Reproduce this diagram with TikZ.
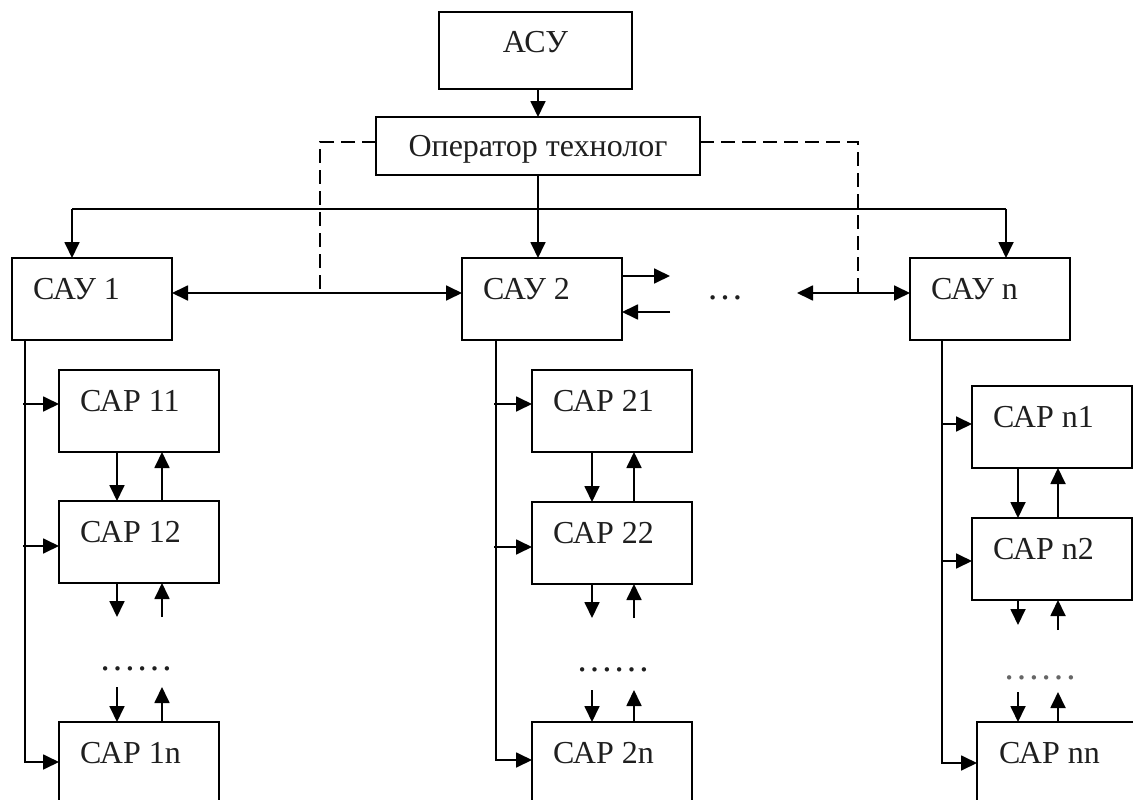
\documentclass[tikz,border=0pt]{standalone}
\usepackage{fontspec}
\setmainfont{Liberation Serif}
\usetikzlibrary{arrows.meta,calc}
\newcommand{\fs}{\fontsize{32}{36}\selectfont}
\newcommand{\fsdots}{\fontsize{37}{40}\selectfont}
\begin{document}
\begin{tikzpicture}[x=1pt,y=-1pt,
  ln/.style={line width=1.8pt},
  box/.style={draw, ln, minimum width=160pt, minimum height=82pt, inner sep=0pt, outer sep=0pt, anchor=north west},
  txt/.style={anchor=base west, inner sep=0pt, font=\fs, text=black!88},
  dotstxt/.style={anchor=base, inner sep=0pt, font=\fsdots, text=black!88},
  arr/.style={ln, -{Triangle[length=16pt,width=15pt]}},
  darr/.style={ln, {Triangle[length=16pt,width=15pt]}-{Triangle[length=16pt,width=15pt]}},
  dsh/.style={ln, dash pattern=on 14pt off 7pt}]
\useasboundingbox (0,0) rectangle (1133,800);

% ---- top ----
\node[box, minimum width=193pt, minimum height=77pt] (asu) at (439,12) {};
\node[txt, anchor=base] (asut) at (535.5,53) {АСУ};
\node[box, minimum width=324pt, minimum height=58pt] (op) at (376,117) {};
\node[txt, anchor=base] (opt) at (538,156) {Оператор технолог};

% ---- SAU level ----
\node[box] (sau1) at (12,258) {};
\node[txt] (sau1t) at (33,299) {САУ 1};
\node[box] (sau2) at (462,258) {};
\node[txt] (sau2t) at (483,299) {САУ 2};
\node[box] (saun) at (910,258) {};
\node[txt] (saunt) at (931,299) {САУ n};
\node[dotstxt] (sdots) at (725,299) {…};

% ---- column 1 ----
\node[box] (c11) at (59,370) {};
\node[txt] (c11t) at (80,411) {САР 11};
\node[box] (c12) at (59,501) {};
\node[txt] (c12t) at (80,542) {САР 12};
\node[box] (c1n) at (59,722) {};
\node[txt] (c1nt) at (80,763) {САР 1n};
\node[dotstxt] (c1dots) at (136,670) {……};

% ---- column 2 ----
\node[box] (c21) at (532,370) {};
\node[txt] (c21t) at (553,411) {САР 21};
\node[box] (c22) at (532,502) {};
\node[txt] (c22t) at (553,543) {САР 22};
\node[box] (c2n) at (532,722) {};
\node[txt] (c2nt) at (553,763) {САР 2n};
\node[dotstxt] (c2dots) at (613,671) {……};

% ---- column n ----
\node[box] (cn1) at (972,386) {};
\node[txt] (cn1t) at (993,427) {САР n1};
\node[box] (cn2) at (972,518) {};
\node[txt] (cn2t) at (993,559) {САР n2};
\node[box] (cnn) at (977,722) {};
\node[txt] (cnnt) at (999,763) {САР nn};
\node[dotstxt, text=black!60] (cndots) at (1040,679) {……};

% ---- top connectors ----
\draw[arr] (asu.south -| op.north) -- (op.north);
\coordinate (b1) at (72,209);
\coordinate (bn) at (1006,209);
\draw[ln] (b1) -- (bn);
\draw[arr] (op.south) -- (op.south |- sau2.north);
\draw[arr] (b1) -- (b1 |- sau1.north);
\draw[arr] (bn) -- (bn |- saun.north);

% dashed links
\coordinate (dl) at (320,293);
\coordinate (dr) at (858,293);
\draw[dsh] ([yshift=4pt]op.west) -| (dl);
\draw[dsh] ([yshift=4pt]op.east) -| (dr);

% horizontal links
\draw[darr] ([yshift=6pt]sau1.east) -- ([yshift=6pt]sau2.west);
\coordinate (o1) at (670,276);
\coordinate (i1) at (670,312);
\draw[arr] (sau2.east |- o1) -- (o1);
\draw[arr] (i1) -- (sau2.east |- i1);
\coordinate (dn) at (797,293);
\draw[darr] (dn) -- (dn -| saun.west);

% ---- column 1 connectors ----
\coordinate (v1) at (25,762);
\draw[arr] (v1 |- sau1.south) |- (v1 -| c1n.west);
\coordinate (in11) at (23,404);
\coordinate (in12) at (23,546);
\draw[arr] (in11) -- (in11 -| c11.west);
\draw[arr] (in12) -- (in12 -| c12.west);
\coordinate (d1) at (117,617);
\coordinate (u1) at (162,687);
\draw[arr] (d1 |- c11.south) -- (d1 |- c12.north);
\draw[arr] (u1 |- c12.north) -- (u1 |- c11.south);
\draw[arr] (d1 |- c12.south) -- (d1);
\draw[arr] (u1 |- d1) -- (u1 |- c12.south);
\draw[arr] (d1 |- u1) -- (d1 |- c1n.north);
\draw[arr] (u1 |- c1n.north) -- (u1);

% ---- column 2 connectors ----
\coordinate (v2) at (496,760);
\draw[arr] (v2 |- sau2.south) |- (v2 -| c2n.west);
\coordinate (in21) at (494,404);
\coordinate (in22) at (494,547);
\draw[arr] (in21) -- (in21 -| c21.west);
\draw[arr] (in22) -- (in22 -| c22.west);
\coordinate (d2) at (592,618);
\coordinate (u2) at (634,690);
\draw[arr] (d2 |- c21.south) -- (d2 |- c22.north);
\draw[arr] (u2 |- c22.north) -- (u2 |- c21.south);
\draw[arr] (d2 |- c22.south) -- (d2);
\draw[arr] (u2 |- d2) -- (u2 |- c22.south);
\draw[arr] (d2 |- u2) -- (d2 |- c2n.north);
\draw[arr] (u2 |- c2n.north) -- (u2);

% ---- column n connectors ----
\coordinate (vn) at (942,763);
\draw[arr] (vn |- saun.south) |- (vn -| cnn.west);
\coordinate (inn1) at (942,424);
\coordinate (inn2) at (942,561);
\draw[arr] (inn1) -- (inn1 -| cn1.west);
\draw[arr] (inn2) -- (inn2 -| cn2.west);
\coordinate (dN) at (1018,625);
\coordinate (uN) at (1058,692);
\draw[arr] (dN |- cn1.south) -- (dN |- cn2.north);
\draw[arr] (uN |- cn2.north) -- (uN |- cn1.south);
\draw[arr] (dN |- cn2.south) -- (dN);
\draw[arr] (uN |- {(0,630)}) -- (uN |- cn2.south);
\draw[arr] (dN |- uN) -- (dN |- cnn.north);
\draw[arr] (uN |- cnn.north) -- (uN);
\end{tikzpicture}
\end{document}
